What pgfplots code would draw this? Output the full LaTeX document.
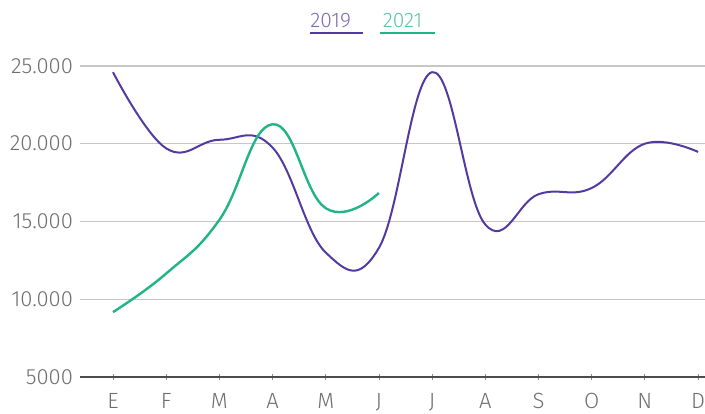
\documentclass[border=0pt]{standalone}
\usepackage{pgfplots}
\pgfplotsset{compat=1.18}
\usepackage{fontspec}
\setmainfont{Fira Sans}[UprightFont=* Light]
\definecolor{c19}{RGB}{82,58,160}
\definecolor{c21}{RGB}{32,180,134}
\definecolor{lab}{RGB}{110,110,110}
\begin{document}
\begin{tikzpicture}
\begin{axis}[
  scale only axis,
  width=312.5pt, height=155.5pt,
  xmin=-0.62, xmax=11.13,
  ymin=5000, ymax=25000,
  clip=false,
  scaled y ticks=false,
  axis x line=bottom, axis y line=left,
  axis line style={-},
  x axis line style={draw=black!70, line width=0.6pt},
  y axis line style={draw=none},
  xtick={0,...,11},
  xticklabels={E,F,M,A,M,J,J,A,S,O,N,D},
  ytick={5000,10000,15000,20000,25000},
  yticklabels={5000,10.000,15.000,20.000,25.000},
  ymajorgrids,
  grid style={black!22, line width=0.6pt},
  xtick align=center,
  x tick style={draw=black!45, line width=0.4pt},
  major tick length=3pt,
  y tick style={draw=none},
  tick label style={font=\fontsize{11}{13}\selectfont, text=lab},
  yticklabel style={xshift=1.5pt},
  xticklabel style={yshift=-3pt},
  /pgf/number format/assume math mode=true,
]
\coordinate (bbl) at (axis description cs:-0.128,-0.119);
\coordinate (btr) at (axis description cs:1,1.212);
\addplot[c19, line width=1pt, smooth, tension=0.7] coordinates {
(0,24600) (1,19700) (2,20250) (3,19750) (4,13000) (5,13300)
(6,24600) (7,14800) (8,16750) (9,17150) (10,20000) (11,19470)};
\addplot[c21, line width=1.2pt, smooth, tension=0.75] coordinates {
(0,9170) (1,11650) (2,15100) (3,21250) (4,15850) (5,16830)};
\node[anchor=base west, text=c19!75, font=\fontsize{10.5}{12}\selectfont, inner sep=0pt] at (axis description cs:0.368,1.125) {2019};
\draw[c19, line width=1.2pt] (axis description cs:0.368,1.106) -- (axis description cs:0.453,1.106);
\node[anchor=base west, text=c21!75, font=\fontsize{10.5}{12}\selectfont, inner sep=0pt] at (axis description cs:0.484,1.125) {2021};
\draw[c21, line width=1.2pt] (axis description cs:0.480,1.106) -- (axis description cs:0.568,1.106);
\end{axis}
\pgfresetboundingbox
\path (bbl) rectangle (btr);
\end{tikzpicture}
\end{document}
